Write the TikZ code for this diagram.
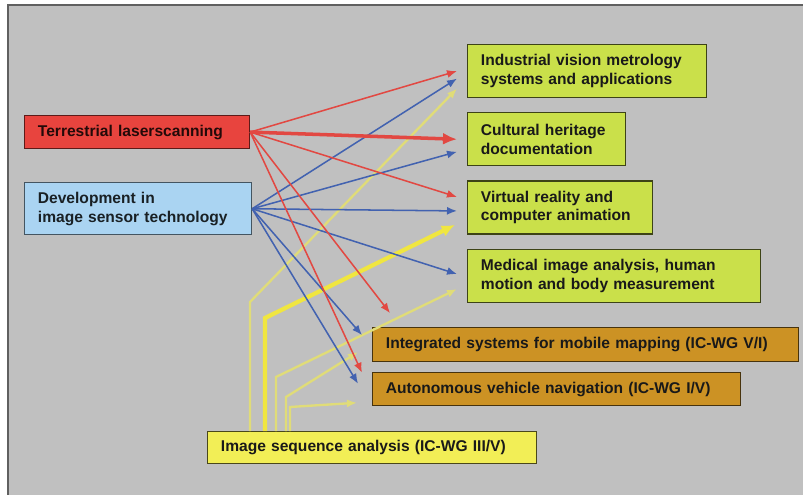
\documentclass[tikz,border=0pt]{standalone}
\usepackage{fontspec}
\setmainfont{Liberation Sans}
\usetikzlibrary{positioning, arrows.meta}

\definecolor{bggray}{RGB}{192,192,192}
\definecolor{framegray}{RGB}{96,96,96}
\definecolor{terrred}{RGB}{232,68,62}
\definecolor{devblue}{RGB}{170,212,242}
\definecolor{topicgreen}{RGB}{202,224,74}
\definecolor{wgorange}{RGB}{204,146,36}
\definecolor{seqyellow}{RGB}{242,238,86}
\definecolor{redline}{RGB}{226,72,66}
\definecolor{blueline}{RGB}{66,98,176}
\definecolor{yelline}{RGB}{240,230,64}
\definecolor{paleyel}{RGB}{224,220,120}

\begin{document}
\begin{tikzpicture}[
	x=1mm, y=1mm,
	box/.style={rectangle, line width=1pt, align=left, anchor=north west, inner xsep=4mm, inner ysep=1mm,
		font=\fontsize{13.3}{16}\selectfont\bfseries},
	source/.style={box, draw=#1!40!black, fill=#1, text=#1!15!black},
	topic/.style={box, draw=topicgreen!30!black, fill=topicgreen, text=black!90, minimum height=15.9mm},
	wg/.style={box, draw=wgorange!35!black, fill=wgorange, text=black!90, minimum height=10.2mm},
	redarr/.style={->, redline, line width=1.3pt},
	bluearr/.style={->, blueline, line width=1.3pt},
	yelarr/.style={->, paleyel, line width=2pt},
	>={Latex[length=3mm, width=2.4mm]}
]

\useasboundingbox (0,0) rectangle (240.9,-148.5);
\fill[white] (0,0) rectangle (240.9,-148.5);
\fill[bggray] (2.4,-1.5) rectangle (240.9,-148.5);
\draw[framegray, line width=1.3pt] (2.4,-148.5) |- (240.9,-1.5);

\node[source=terrred, text width=59.5mm, minimum height=9.9mm] (terr) at (7.2,-34.5) {Terrestrial laserscanning};
\node[source=devblue, text width=60.1mm, minimum height=15.6mm, below=9.9mm of terr.south west, anchor=north west] (dev) {Development in\\image sensor technology};

\node[topic, text width=63.7mm] (ind) at (140.1,-13.2) {Industrial vision metrology\\systems and applications};
\node[topic, text width=39.4mm, below=4.2mm of ind.south west, anchor=north west] (cult) {Cultural heritage\\documentation};
\node[topic, text width=47.5mm, below=4.2mm of cult.south west, anchor=north west] (virt) {Virtual reality and\\computer animation};
\node[topic, text width=79.9mm, below=4.2mm of virt.south west, anchor=north west] (med) {Medical image analysis, human\\motion and body measurement};

\node[wg, text width=119.8mm] (integ) at (111.6,-98.1) {Integrated systems for mobile mapping (IC-WG V/I)};
\node[wg, text width=102.4mm, minimum height=9.9mm, below=3mm of integ.south west, anchor=north west] (auton) {Autonomous vehicle navigation (IC-WG I/V)};

\node[box, draw=seqyellow!30!black, fill=seqyellow, text=black!90, text width=90.7mm, minimum height=9.6mm] (seq) at (62.1,-129.3) {Image sequence analysis (IC-WG III/V)};

\foreach \dx/\h/\n/\ex/\ey in {12.9/38.7/ind/-3/-5.25, 20.7/16.2/med/-3/-4.05, 23.7/10.2/integ/-4.2/-2.25, 24.9/7.2/auton/-4.5/-4.05}
	\draw[yelarr] ([xshift=\dx mm]seq.north west) -- ++(0,\h) -- ([shift={(\ex mm,\ey mm)}]\n.west);
\draw[yelarr, yelline, line width=3.6pt, >={Latex[length=4mm, width=3.6mm]}] ([xshift=17.4mm]seq.north west) -- ++(0,33.9) -- ([shift={(-3.6mm,-5.25mm)}]virt.west);

\foreach \n/\ex/\ey in {ind/-3/-2.25, cult/-3/-3.75, virt/-3/-1.05, med/-3/0.45, integ/-3/2.85, auton/-4.2/1.65}
	\draw[bluearr] (dev.east) -- ([shift={(\ex mm,\ey mm)}]\n.west);

\foreach \n/\ex/\ey in {ind/-3/0, virt/-3/3.15, integ/5.4/9.45, auton/-3/4.95}
	\draw[redarr] (terr.east) -- ([shift={(\ex mm,\ey mm)}]\n.west);
\draw[redarr, line width=3pt, >={Latex[length=4.2mm, width=3.6mm]}] (terr.east) -- ([xshift=-3mm]cult.west);

\end{tikzpicture}
\end{document}
